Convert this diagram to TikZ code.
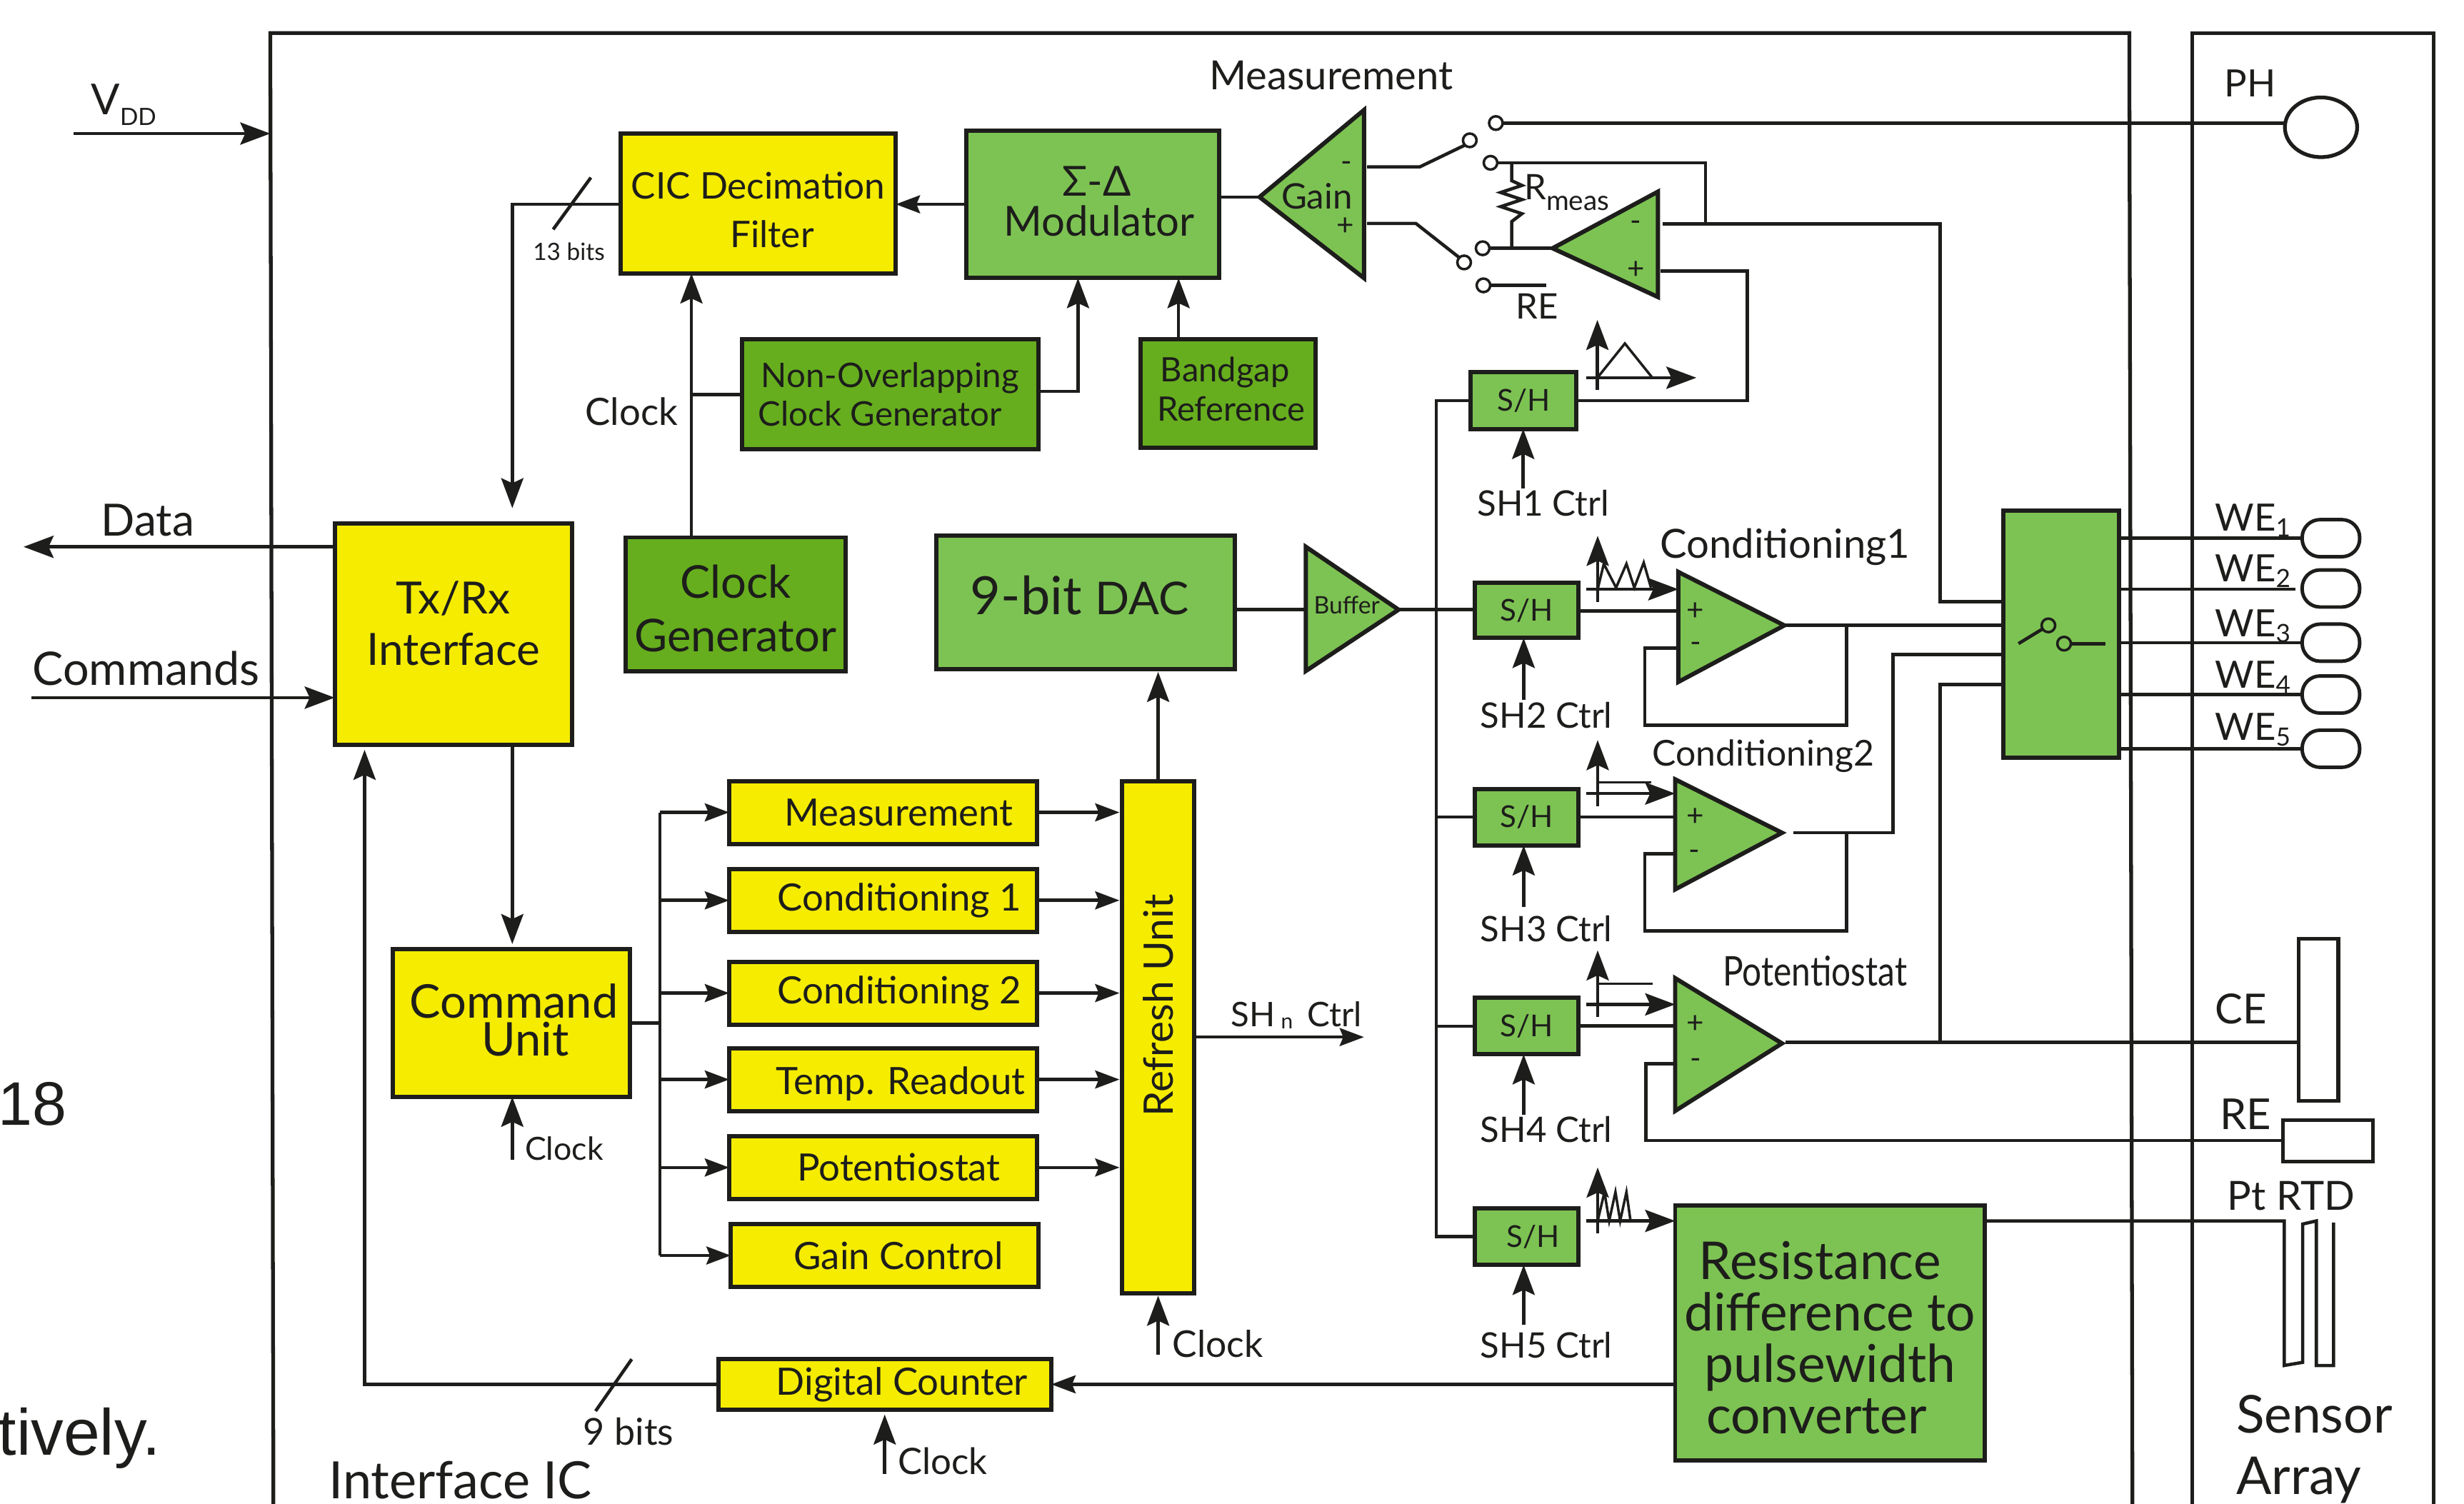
\documentclass[tikz,border=0pt]{standalone}
\usepackage{fontspec}
\setmainfont{Lato}
\newfontfamily\arialfont{Liberation Sans}
\usetikzlibrary{arrows.meta,shapes.geometric}
\definecolor{ink}{HTML}{1D1D1B}
\definecolor{yel}{HTML}{F5EC00}
\definecolor{grn}{HTML}{7DC353}
\definecolor{dgrn}{HTML}{66AE1E}
\def\U{0.022003cm}
\newcommand\fsz[2]{\fontsize{#1}{#2}\selectfont}
% vertical nudges of box text: a strut below lifts it, a strut above lowers it
\newcommand\lift[1]{\rule[-#1]{0pt}{#1}}
\newcommand\drop[1]{\rule{0pt}{\dimexpr0.75em+#1\relax}}
\tikzset{
 every node/.style={text=ink,inner sep=0pt,outer sep=0pt},
 box/.style={draw=ink,line width=1.7pt,align=center,inner sep=0pt},
 frameline/.style={draw=ink,line width=1.5pt},
 conn/.style={draw=ink,line width=1.3pt},
 arr/.style={conn,-{Stealth[length=4.2mm,width=3.1mm,inset=0.7mm]}},
 sarr/.style={conn,-{Stealth[length=3.4mm,width=2.5mm,inset=0.5mm]}},
 tri/.style={draw=ink,fill=grn,line width=1.7pt,line join=miter},
 contact/.style={circle,draw=ink,line width=1pt,minimum size=0.19cm,fill=white},
 oval/.style={draw=ink,line width=1.4pt,rounded corners=0.25cm,minimum width=36.6*\U,minimum height=23.6*\U},
 elec/.style={draw=ink,line width=1.5pt},
 shbox/.style={box,fill=grn,font=\fsz{12}{14}},
 ybox/.style={box,fill=yel,font=\fsz{15}{17}},
 lab/.style={font=\fsz{15}{17}},
 ctrl/.style={font=\fsz{14}{16}},
 sgn/.style={font=\fsz{12}{14}},
 tiny/.style={font=\fsz{9.5}{11}},
}
% name, x1, y1, x2, y2, style, text
\newcommand\bx[7]{\node[#6,minimum width={(#4-#2)*\U},minimum height={(#5-#3)*\U}] (#1) at ({(#2+#4)/2},{(#3+#5)/2}) {#7};}
\begin{document}
\begin{tikzpicture}[x=0.022003cm,y=-0.022003cm]
\path[use as bounding box,clip] (0,0) rectangle (1568,957);
\fill[white] (0,0) rectangle (1568,957);

% frames
\coordinate (icBL) at (174,960); \coordinate (icTL) at (172,21); \coordinate (icTR) at (1355,21); \coordinate (icBR) at (1357,960);
\draw[frameline] (icBL) -- (icTL) -- (icTR) -- (icBR);
\coordinate (saBL) at (1395,960); \coordinate (saTL) at (1395,21); \coordinate (saTR) at (1548.5,21); \coordinate (saBR) at (1548.5,960);
\draw[frameline] (saBL) -- (saTL) -- (saTR) -- (saBR);

% stray page text
\node[anchor=base west,font=\arialfont\fsz{24.5}{28}] (strayA) at (-1,716) {18};
\node[anchor=base west,font=\arialfont\fsz{26}{28}] (strayB) at (-1,926) {tively.};

% blocks
\bx{cic}{395}{85}{570}{174}{ybox,font=\fsz{14.6}{19.4}}{\drop{5pt}CIC Decimation\\\hspace*{11pt}Filter}
\bx{sd}{615}{83}{776}{177}{box,fill=grn,font=\fsz{16.5}{16}}{\hspace*{3pt}Σ-Δ\\\hspace*{5pt}Modulator\lift{2.5pt}}
\bx{nov}{472}{216}{661}{286}{box,fill=dgrn,font=\fsz{13.5}{15.6}}{Non-Overlapping\\Clock Generator\hspace*{8pt}}
\bx{bg}{726}{216}{837}{285}{box,fill=dgrn,font=\fsz{13.4}{15.6}}{Bandgap\hspace*{2.5pt}\\\hspace*{2.5pt}Reference\lift{3.7pt}}
\bx{clk}{398}{342}{538}{427}{box,fill=dgrn,font=\fsz{18}{21.3}}{\drop{3pt}Clock\\Generator}
\bx{dac}{596}{341}{786}{426}{box,fill=grn,font=\fsz{21}{24}}{9-bit \fsz{18}{24}DAC\hspace*{5pt}\lift{6pt}}
\bx{txrx}{213}{333}{364}{474}{ybox,font=\fsz{17.7}{20.5}}{Tx/Rx\\Interface\lift{8.7pt}}
\bx{cmd}{250}{604}{401}{698}{ybox,font=\fsz{18.5}{15}}{\hspace*{2pt}Command\\\hspace*{11pt}Unit\lift{2.5pt}}
\bx{y1}{464}{497}{660}{537}{ybox}{\hspace*{12.5pt}Measurement}
\bx{y2}{464}{553}{660}{593}{ybox}{\hspace*{13pt}Conditioning 1}
\bx{y3}{464}{612}{660}{652}{ybox}{\hspace*{13pt}Conditioning 2}
\bx{y4}{464}{667}{660}{707}{ybox}{\drop{3pt}\hspace*{14pt}Temp. Readout}
\bx{y5}{464}{723}{660}{763}{ybox}{\hspace*{12.5pt}Potentiostat}
\bx{y6}{465}{779}{661}{819}{ybox}{\hspace*{11pt}Gain Control}
\bx{ref}{714}{497}{760}{823}{box,fill=yel}{}
\node[rotate=90,font=\fsz{16.2}{18}] (reft) at (737,640) {Refresh Unit};
\bx{dig}{457}{865}{669}{897}{ybox}{\hspace*{13.7pt}Digital Counter}
\bx{res}{1066}{767}{1263}{929.5}{box,fill=grn,font=\fsz{20.8}{20.5}}{\drop{3.5pt}Resistance\hspace*{8pt}\\difference to\hspace*{2pt}\\pulsewidth\hspace*{6pt}\\converter\hspace*{10.6pt}}
\bx{sw}{1275}{325}{1348.5}{482}{box,fill=grn}{}
\bx{sh1}{936}{237}{1003}{273}{shbox}{S/H}
\bx{sh2}{938.5}{371}{1004.5}{406}{shbox}{S/H}
\bx{sh3}{938.5}{502}{1004.5}{538}{shbox}{S/H}
\bx{sh4}{938.5}{635}{1004.5}{671}{shbox}{S/H}
\bx{sh5}{938.5}{769}{1004.5}{805}{shbox}{\hspace*{5pt}S/H}

% triangles
\coordinate (gA) at (801.5,125.4); \coordinate (gT) at (868,70); \coordinate (gB) at (868,177);
\draw[tri] (gA) -- (gT) -- (gB) -- cycle;
\coordinate (mA) at (988,158); \coordinate (mT) at (1055,122); \coordinate (mB) at (1055,189);
\draw[tri] (mA) -- (mT) -- (mB) -- cycle;
\coordinate (bA) at (890,388); \coordinate (bT) at (831,348); \coordinate (bB) at (831,427);
\draw[tri] (bA) -- (bT) -- (bB) -- cycle;
\coordinate (c1A) at (1135.5,398); \coordinate (c1T) at (1068,364); \coordinate (c1B) at (1068,434);
\draw[tri] (c1A) -- (c1T) -- (c1B) -- cycle;
\coordinate (c2A) at (1134,530); \coordinate (c2T) at (1066,496); \coordinate (c2B) at (1066,566);
\draw[tri] (c2A) -- (c2T) -- (c2B) -- cycle;
\coordinate (pA) at (1134,664); \coordinate (pT) at (1066,622.5); \coordinate (pB) at (1066,707);
\draw[tri] (pA) -- (pT) -- (pB) -- cycle;

% triangle labels
\node[font=\fsz{14}{16}] (gaint) at (838,125) {Gain};
\node[sgn] (gm) at (857,106) {-};
\node[sgn] (gp) at (856,144) {+};
\node[sgn] (mm) at (1041,144) {-};
\node[sgn] (mp) at (1041,172) {+};
\node[font=\fsz{9.6}{10}] (buft) at (857,385) {Buffer};
\node[sgn] (c1p) at (1079,389) {+};
\node[sgn] (c1m) at (1079,412) {-};
\node[sgn] (c2p) at (1079,520) {+};
\node[sgn] (c2m) at (1078,544) {-};
\node[sgn] (pp) at (1079,652) {+};
\node[sgn] (pm) at (1079,677) {-};

% sensor elements
\node[elec,ellipse,minimum width=46*\U,minimum height=38*\U] (ph) at (1477,81) {};
\node[oval] (we1) at (1483.3,342.5) {};
\node[oval] (we2) at (1483.3,374.5) {};
\node[oval] (we3) at (1483.3,409) {};
\node[oval] (we4) at (1483.3,442) {};
\node[oval] (we5) at (1483.3,476.5) {};
\bx{ce}{1462.8}{597.5}{1488}{700.6}{elec}{}
\bx{re}{1452.8}{712.8}{1510}{739.2}{elec}{}

% top-left connectors
\coordinate (vdd) at (47,85);
\draw[arr] (vdd) -- (icTL |- vdd);
\draw[arr] (txrx.west |- 0,348) -- (15,348);
\draw[arr] (20,444) -- (txrx.west |- 0,444);
\draw[sarr] (sd.west |- 0,130) -- (cic.east |- 0,130);
\draw[arr,shorten >=6pt] (cic.west |- 0,130) -| (326,0 |- txrx.north);
\draw[conn] (352,146) -- (376,113);
\draw[arr] (clk.north -| 440,0) -- (cic.south -| 440,0);
\draw[conn] (nov.west |- 0,251) -- (440,251);
\draw[arr] (nov.east |- 0,249) -- (686,249) -- (686,0 |- sd.south);
\draw[arr] (bg.north -| 750,0) -- (sd.south -| 750,0);
\draw[conn] (sd.east |- gA) -- (gA);
\draw[conn] (dac.east |- 0,388) -- (bT |- 0,388);
\draw[arr,shorten >=1pt] (ref.north -| 737,0) -- (dac.south -| 737,0);
\draw[arr,shorten >=2pt] (txrx.south -| 326,0) -- (cmd.north -| 326,0);
\draw[conn] (cmd.east) -- (420,0 |- cmd.east);
\coordinate (busT) at (420,517); \coordinate (busB) at (420,799);
\draw[conn] (busT) -- (busB);
\foreach \n/\yy in {y1/517,y2/573,y3/632,y4/687,y5/743,y6/799}{
  \draw[sarr] (420,\yy) -- (\n.west |- 0,\yy);
}
\foreach \n/\yy in {y1/517,y2/573,y3/632,y4/687,y5/743}{
  \draw[sarr,shorten >=1pt] (\n.east |- 0,\yy) -- (ref.west |- 0,\yy);
}
\draw[arr] (326,738) -- (cmd.south -| 326,0);
\draw[arr,shorten >=1pt] (737,862) -- (ref.south -| 737,0);
\draw[arr,shorten >=2pt] (563,938) -- (dig.south -| 563,0);
\draw[sarr] (ref.east |- 0,660) -- (868,660);
\draw[sarr] (res.west |- 0,881) -- (dig.east |- 0,881);
\draw[arr,shorten >=2pt] (dig.west |- 0,881) -| (232,0 |- txrx.south);
\draw[conn] (379,898) -- (402,865);

% measurement switch
\node[contact] (k1) at (951.9,78.3) {};
\node[contact] (k2) at (948.5,103.6) {};
\node[contact] (k3) at (943.5,158) {};
\node[contact] (k4) at (944,181.6) {};
\node[contact] (a1) at (935.3,89.3) {};
\node[contact] (a2) at (931.7,167) {};
\draw[conn] (k1.east) -- (k1.east -| ph.west);
\draw[conn] (870,106.2) -- (903.5,106.2) -- (a1.south west);
\draw[conn] (870,142.2) -- (901,142.2) -- (a2.north west);
\draw[conn] (k2.east) -- (1085.3,103.6) -- (1085.3,142.6);
\draw[conn] (962,103.6) -- (962,115) -- (968.5,118) -- (955,122.5) -- (968.5,127) -- (955,131.5) -- (968.5,136) -- (962,141) -- (962,158);
\draw[conn] (k3.east) -- (mA);
\draw[conn] (k4.east) -- (984,181.6);
\draw[conn] (1058,142.6) -- (1234.6,142.6) -- (1234.6,383) -- (sw.west |- 0,383);
\draw[conn] (sh1.east) -- (1112,0 |- sh1.east) -- (1112,172.5) -- (1056.7,172.5);
\draw[conn] (sh1.west) -- (914,0 |- sh1.west) -- (914,0 |- sh5.west) -- (sh5.west);
\draw[conn] (bA) -- (sh2.west |- bA);
\draw[conn] (914,0 |- sh3.west) -- (sh3.west);
\draw[conn] (914,0 |- sh4.west) -- (sh4.west);

% sample/hold controls
\draw[arr] (969.3,311) -- (sh1.south -| 969.3,0);
\draw[arr] (969.6,445.4) -- (sh2.south -| 969.6,0);
\draw[arr] (969.6,577) -- (sh3.south -| 969.6,0);
\draw[arr] (969.6,709.6) -- (sh4.south -| 969.6,0);
\draw[arr] (969.6,843) -- (sh5.south -| 969.6,0);

% waveform axes
\draw[arr] (1016.5,248) -- (1016.5,203.6);
\draw[arr] (1009.3,240.4) -- (1079.5,240.4);
\draw[conn,line width=1pt] (1016.5,240.4) -- (1034,218.6) -- (1051.5,240.4);
\draw[arr] (1016.7,383) -- (1016.7,341);
\draw[arr] (1009.6,375) -- (c1T |- 0,375);
\draw[conn,line width=1pt] (1016.7,375) -- (1020.6,358.8) -- (1028.4,374) -- (1035,358.8) -- (1040,374) -- (1046,358) -- (1050.6,374);
\draw[arr] (1016.7,513) -- (1016.7,471);
\draw[arr] (1009.6,505) -- (c2T |- 0,505);
\draw[conn,line width=1pt] (1016.7,498) -- (1051,498);
\draw[arr] (1016.7,647) -- (1016.7,604.8);
\draw[arr] (1009.4,639.2) -- (pT |- 0,639.2);
\draw[conn,line width=1pt] (1016.7,626) -- (1051.5,626);
\draw[arr] (1016.7,784.8) -- (1016.7,743);
\draw[arr] (1009.4,777) -- (res.west |- 0,777);
\draw[conn,line width=1pt] (1016.7,777) -- (1021,758.6) -- (1024,777) -- (1028,758.6) -- (1031,777) -- (1035,758.6) -- (1037.6,777);

% amplifier wiring
\draw[conn] (sh2.east |- 0,388.7) -- (c1T |- 0,388.7);
\draw[conn] (c1A) -- (sw.west |- c1A);
\draw[conn] (c1T |- 0,412.5) -- (1046.6,412.5) -- (1046.6,461.6) -- (1175,461.6) -- (1175,398);
\draw[conn] (sh3.east |- 0,520) -- (c2T |- 0,520);
\draw[conn] (1141,530) -- (1204.5,530) -- (1204.5,416.5) -- (sw.west |- 0,416.5);
\draw[conn] (c2T |- 0,543.4) -- (1046.6,543.4) -- (1046.6,592.5) -- (1175,592.5) -- (1175,530);
\draw[conn] (sh4.east |- 0,652.8) -- (pT |- 0,652.8);
\draw[conn] (1136,663.3) -- (ce.west |- 0,663.3);
\draw[conn] (1234.6,663.3) -- (1234.6,435.7) -- (sw.west |- 0,435.7);
\draw[conn] (pT |- 0,676.9) -- (1047.3,676.9) -- (1047.3,725.9) -- (re.west |- 0,725.9);
\draw[conn] (res.east |- 0,777) -- (1453.6,777) -- (1453.6,869) -- (1465.3,867) -- (1465.3,779) -- (1474,777) -- (1474,869) -- (1485,869) -- (1485,778);

% working electrodes
\draw[conn] (sw.east |- we1) -- (we1.west);
\coordinate (we2end) at (1460.6,375);
\draw[conn] (sw.east |- we2end) -- (we2end);
\draw[conn] (sw.east |- we3) -- (we3.west);
\draw[conn] (sw.east |- we4) -- (we4.west);
\draw[conn] (sw.east |- we5) -- (we5.west);

% switch symbol
\node[contact,fill=none] (s1) at (1303.5,398) {};
\node[contact,fill=none] (s2) at (1313.5,409.6) {};
\draw[conn] (1284.5,409.6) -- (s1);
\draw[conn] (s2.east) -- (1340,409.6);

% labels
\node[anchor=base,font=\fsz{16}{18}] (measl) at (847,57) {Measurement};
\node[anchor=base west,font=\fsz{17}{19}] (vddl) at (58,73) {V\raisebox{-0.5ex}{\fsz{9.5}{10}DD}};
\node[anchor=base,font=\fsz{17.7}{19}] (datal) at (94,341) {Data};
\node[anchor=base,font=\fsz{18.4}{20}] (cmdl) at (93,436) {Commands};
\node[tiny] (bits13) at (362,160) {13 bits};
\node[lab] (clkl) at (402,262) {Clock};
\node[font=\fsz{12.7}{14}] (clk1) at (359,731) {Clock};
\node[font=\fsz{14.7}{16}] (clk2) at (775,855) {Clock};
\node[font=\fsz{14.5}{16}] (clk3) at (600,930) {Clock};
\node[font=\fsz{14.8}{16}] (bits9) at (400,911) {9 bits};
\node[font=\fsz{20.5}{22}] (icl) at (293,942) {Interface IC};
\node[font=\fsz{13.5}{16}] (shnl) at (825,646) {SH\,\raisebox{-0.1ex}{\fsz{8.5}{9}n}\, Ctrl};
\node[anchor=base west,font=\fsz{14}{16}] (rml) at (970,127) {R\raisebox{-0.6ex}{\fsz{11}{12}meas}};
\node[font=\fsz{14}{17}] (rel) at (978,195) {RE};
\node[ctrl] (sl1) at (982,320) {SH1 Ctrl};
\node[ctrl] (sl2) at (984,455) {SH2 Ctrl};
\node[ctrl] (sl3) at (984,591) {SH3 Ctrl};
\node[ctrl] (sl4) at (984,719) {SH4 Ctrl};
\node[ctrl] (sl5) at (984,856) {SH5 Ctrl};
\node[font=\fsz{16}{18}] (cl1) at (1136,348) {Conditioning1};
\node[font=\fsz{14.2}{17}] (cl2) at (1122,481) {Conditioning2};
\node[font=\fsz{13.6}{17}] (potl) at (1155,618) {\scalebox{1}[1.2]{Potentiostat}};
\node[lab] (phl) at (1432,53) {PH};
\node[anchor=base west,font=\fsz{15}{17}] (wl1) at (1409.6,338) {WE\raisebox{-0.3ex}{\fsz{10}{11}1}};
\node[anchor=base west,font=\fsz{15}{17}] (wl2) at (1409.6,370) {WE\raisebox{-0.3ex}{\fsz{10}{11}2}};
\node[anchor=base west,font=\fsz{15}{17}] (wl3) at (1409.6,405) {WE\raisebox{-0.3ex}{\fsz{10}{11}3}};
\node[anchor=base west,font=\fsz{15}{17}] (wl4) at (1409.6,438) {WE\raisebox{-0.3ex}{\fsz{10}{11}4}};
\node[anchor=base west,font=\fsz{15}{17}] (wl5) at (1409.6,471) {WE\raisebox{-0.3ex}{\fsz{10}{11}5}};
\node[font=\fsz{16.5}{18}] (cel) at (1426,642) {CE};
\node[font=\fsz{17}{19}] (rel2) at (1429,709) {RE};
\node[font=\fsz{16}{18}] (rtdl) at (1458,761) {Pt RTD};
\node[font=\fsz{20.8}{24.5},align=left,anchor=north west] (sal) at (1423,888) {Sensor\\Array};
\end{tikzpicture}
\end{document}
